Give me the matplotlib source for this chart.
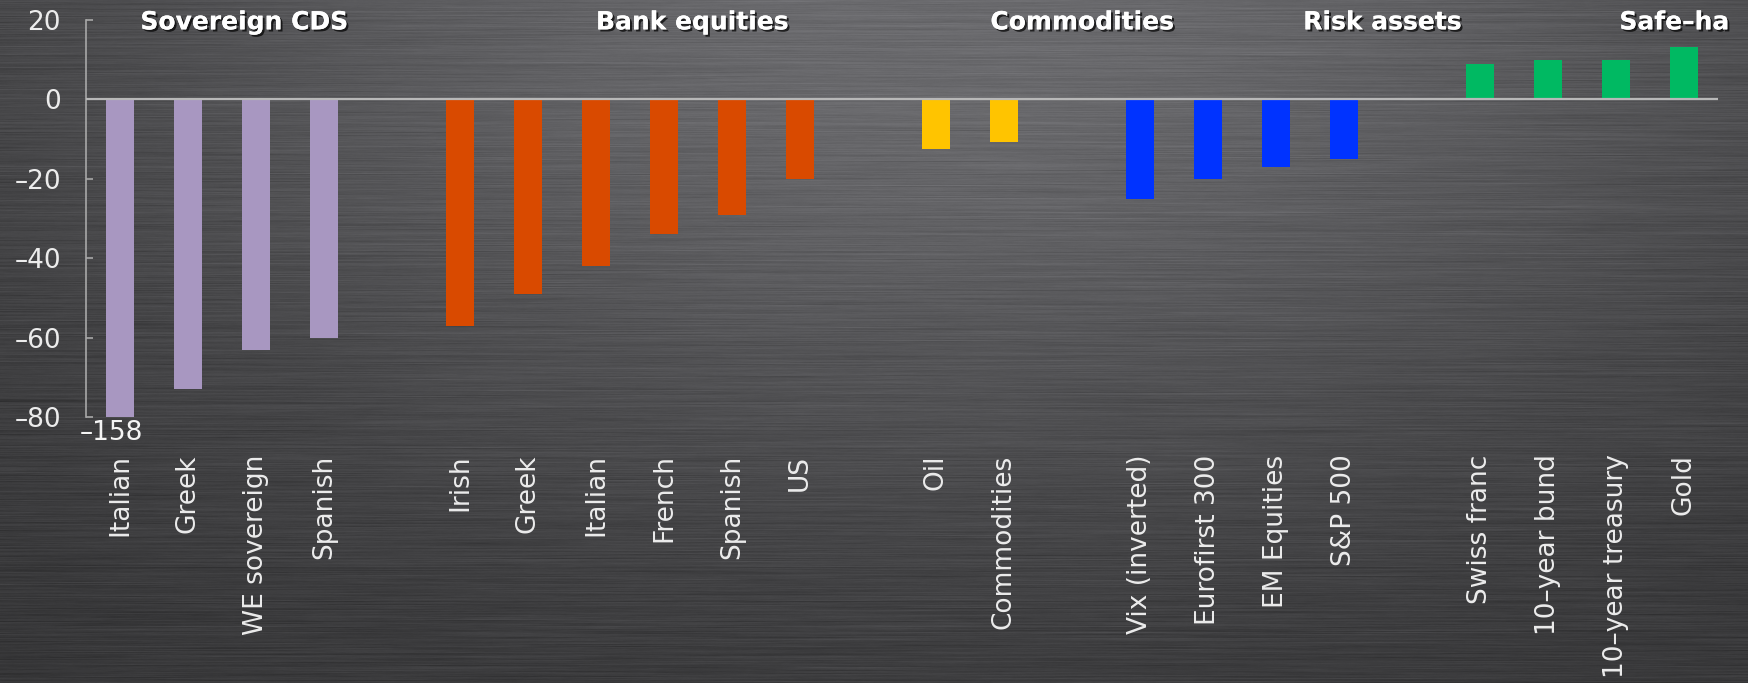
import numpy as np
import matplotlib
matplotlib.use("Agg")
import matplotlib.pyplot as plt
import matplotlib.patheffects as pe

# market moves by asset group (% change)
group_names = ["Sovereign CDS", "Bank equities", "Commodities", "Risk assets", "Safe–ha"]

sovereign_labels = ["Italian", "Greek", "WE sovereign", "Spanish"]
sovereign_values = [-158, -73, -63, -60]

bank_labels = ["Irish", "Greek", "Italian", "French", "Spanish", "US"]
bank_values = [-57, -49, -42, -34, -29, -20]

commodity_labels = ["Oil", "Commodities"]
commodity_values = [-12.4, -10.7]

risk_labels = ["Vix (inverted)", "Eurofirst 300", "EM Equities", "S&P 500"]
risk_values = [-25, -20, -17, -15]

safe_labels = ["Swiss franc", "10–year bund", "10–year treasury", "Gold"]
safe_values = [9, 9.8, 9.8, 13.3]

y_ticks = [20, 0, -20, -40, -60, -80]

group_colors = ["#a897c1", "#d94a00", "#ffc400", "#0033ff", "#00b962"]
header_x = [0.3, 7.0, 12.8, 17.4, 22.05]

W, H = 1749, 683
fig = plt.figure(figsize=(W / 100, H / 100), dpi=100)

# brushed-metal backdrop: soft highlight up top plus fine horizontal streaks
bg_ax = fig.add_axes([0, 0, 1, 1], zorder=-1)
yy, xx = np.mgrid[0:1:H * 1j, 0:1:W * 1j]
light = 0.20 + 0.22 * np.exp(-(((xx - 0.55) / 0.55) ** 2 + (yy / 0.75) ** 2))
rng = np.random.default_rng(11)
win = 120
noise = rng.normal(0, 1, (H, W + win))
c = np.cumsum(noise, axis=1)
streaks = (c[:, win:] - c[:, :-win]) / np.sqrt(win)
streaks = streaks[:, :W]
rows = rng.normal(0, 1, (H, 1))
light = light + 0.012 * streaks + 0.007 * rows
img = np.dstack([light, light, light * 1.03]).clip(0, 1)
bg_ax.imshow(img, aspect="auto", extent=[0, 1, 0, 1], interpolation="bilinear")
bg_ax.axis("off")

ax = fig.add_axes([86 / W, 1 - 417 / H, 1632 / W, 397 / H])
ax.patch.set_alpha(0)

groups = [
    (sovereign_labels, sovereign_values),
    (bank_labels, bank_values),
    (commodity_labels, commodity_values),
    (risk_labels, risk_values),
    (safe_labels, safe_values),
]

positions, all_labels = [], []
slot = 0
for gi, (labs, vals) in enumerate(groups):
    xs = np.arange(slot, slot + len(vals))
    ax.bar(xs, vals, width=0.41, color=group_colors[gi], zorder=2)
    positions.extend(xs)
    all_labels.extend(labs)
    slot += len(vals) + 1

ax.set_xlim(-0.5, 23.5)
ax.set_ylim(-80, 20)
ax.axhline(0, color="#b8b8b8", lw=1.6, zorder=3)

for s in ["top", "right", "bottom"]:
    ax.spines[s].set_visible(False)
ax.spines["left"].set_color("#a8a8a8")
ax.spines["left"].set_linewidth(1.2)

ax.set_yticks(y_ticks)
ax.set_yticklabels([str(t).replace("-", "–") for t in y_ticks])
ax.tick_params(axis="y", direction="in", length=5, width=1.2, color="#a8a8a8",
               labelsize=19, labelcolor="#ececec", pad=18)
ax.set_xticks(positions)
ax.set_xticklabels(all_labels, rotation=90)
ax.tick_params(axis="x", length=0, labelsize=19, labelcolor="#ececec", pad=27)

# value label for the off-scale bar
ax.text(-0.12, -84, str(sovereign_values[0]).replace("-", "–"), ha="center", va="center",
        fontsize=19, color="#f4f4f4", clip_on=False)

shadow = [pe.withSimplePatchShadow(offset=(1.5, -1.5), shadow_rgbFace="black", alpha=0.7),
          pe.Normal()]
for name, hx in zip(group_names, header_x):
    ax.text(hx, 19.4, name, ha="left", va="center", fontsize=18, fontweight="bold",
            color="white", path_effects=shadow, clip_on=False)

fig.savefig("out.png", dpi=100)
